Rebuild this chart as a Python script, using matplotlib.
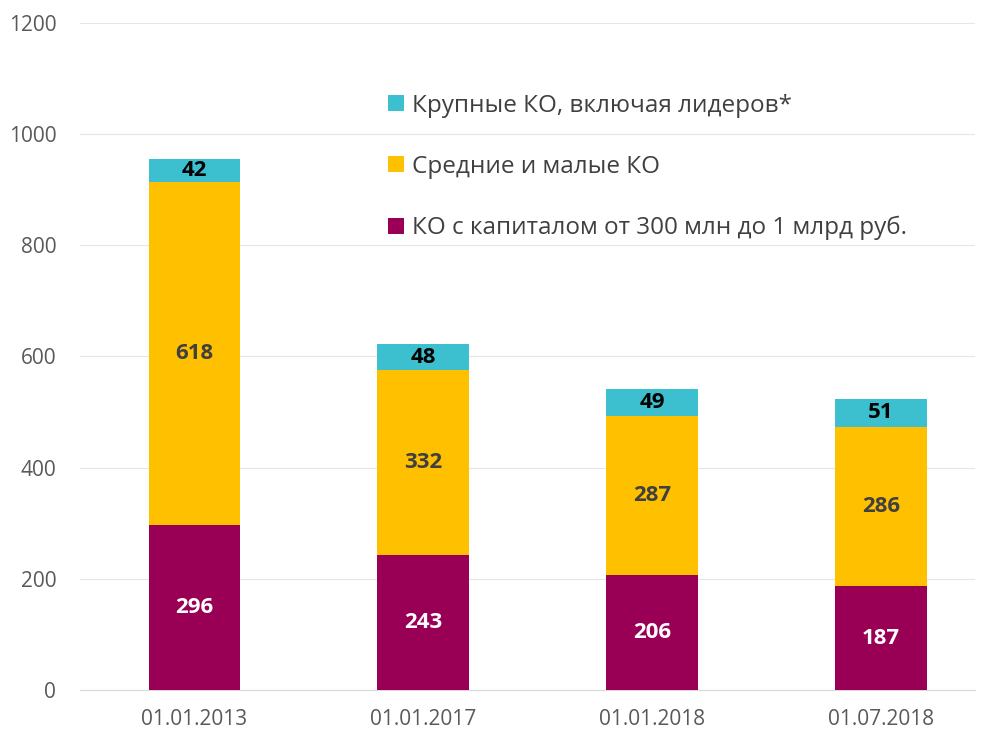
import matplotlib.pyplot as plt
import numpy as np

plt.rcParams['font.family'] = ['Open Sans', 'DejaVu Sans']

### DATA ###

dates = ["01.01.2013", "01.01.2017", "01.01.2018", "01.07.2018"]
small_ko = [296, 243, 206, 187] # KO с капиталом от 300 млн до 1 млрд руб.
mid_ko = [618, 332, 287, 286] # Средние и малые КО
big_ko = [42, 48, 49, 51] # Крупные КО
names = ["КО с капиталом от 300 млн до 1 млрд руб.", "Средние и малые КО", "Крупные КО, включая лидеров*"]

col_small = "#990055"
col_mid = "#FFC000"
col_big = "#3CBFCF"

### PLOT ###

fig = plt.figure(figsize=(9.81, 7.32), dpi=100)
ax = fig.add_axes([0.0815, 0.0574, 0.912, 0.9112])

x = np.arange(len(dates))
w = 0.4

b1 = ax.bar(x, small_ko, w, color=col_small, label=names[0], zorder=3)
b2 = ax.bar(x, mid_ko, w, bottom=small_ko, color=col_mid, label=names[1], zorder=3)
bot3 = np.array(small_ko) + np.array(mid_ko)
b3 = ax.bar(x, big_ko, w, bottom=bot3, color=col_big, label=names[2], zorder=3)

ax.bar_label(b1, label_type="center", color="white", fontsize=16, fontweight="bold")
ax.bar_label(b2, label_type="center", color="#404040", fontsize=16, fontweight="bold")
ax.bar_label(b3, label_type="center", color="black", fontsize=16, fontweight="bold")

ax.set_ylim(0, 1200)
ax.set_yticks(range(0, 1201, 200))
ax.set_xlim(-0.5, 3.41)
ax.set_xticks(x)
ax.set_xticklabels(dates)
ax.tick_params(axis="both", length=0, labelsize=15, labelcolor="#595959")
ax.tick_params(axis="x", pad=14)
ax.tick_params(axis="y", pad=17)

ax.grid(axis="y", color="#E6E6E6", linewidth=0.8, zorder=0)
for s in ["top", "right", "left"]:
    ax.spines[s].set_visible(False)
ax.spines["bottom"].set_color("#D9D9D9")

handles, labels = ax.get_legend_handles_labels()
leg = ax.legend(handles[::-1], labels[::-1], loc="upper left", bbox_to_anchor=(0.373, 0.902),
                bbox_transform=fig.transFigure, frameon=False, fontsize=17.5,
                handlelength=0.65, handleheight=0.65, handletextpad=0.35, labelspacing=1.53)
for t in leg.get_texts():
    t.set_color("#404040")

fig.savefig("out.png", dpi=100)
